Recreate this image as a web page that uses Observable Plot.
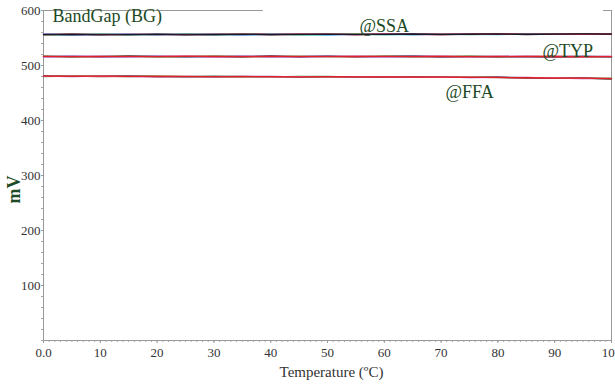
<!DOCTYPE html>
<html>
<head>
<meta charset="utf-8">
<script src="https://cdn.jsdelivr.net/npm/d3@7"></script>
<script src="https://cdn.jsdelivr.net/npm/@observablehq/plot@0.6"></script>
<style>
  html, body { margin: 0; padding: 0; background: white; }
</style>
</head>
<body>
<div id="chart"></div>
<script>
// Temperatures (ºC)
const temps = [0, 5, 10, 15, 20, 25, 30, 35, 40, 45, 50, 55, 60, 65, 70, 75, 80, 85, 90, 95, 100];
const xTicks = [0, 10, 20, 30, 40, 50, 60, 70, 80, 90, 100];
const yTicks = [100, 200, 300, 400, 500, 600];

// Colours of the overlapping sample curves, per group
const ssaColors = ["#00c8e6", "#3a5bd0", "#39a04a", "#9a4aa8", "#d8202a", "#1a1a2a"];
const typColors = ["#3a5bd0", "#8a9a30", "#9a4aa8", "#1a1a2a", "#ff6b9a", "#e0202a"];
const ffaColors = ["#39a04a", "#9a4aa8", "#8a9a30", "#1a1a2a", "#ff6b9a", "#e0202a"];

// @SSA curves (mV)
const ssaSeries = [
  [557.2, 556.0, 556.9, 556.4, 555.7, 556.9, 556.1, 555.8, 556.9, 556.3, 555.9, 557.1, 556.2, 556.0, 557.2, 556.5, 556.3, 557.4, 556.8, 556.9, 557.9],
  [556.5, 555.7, 556.3, 557.0, 556.1, 556.4, 557.1, 556.2, 556.6, 557.2, 556.3, 556.7, 557.4, 556.4, 556.7, 557.4, 556.6, 556.9, 557.5, 557.0, 557.4],
  [555.8, 556.4, 557.0, 555.7, 556.6, 557.1, 555.9, 556.6, 557.1, 555.9, 556.7, 557.3, 556.0, 556.9, 557.5, 556.2, 557.1, 557.6, 556.5, 557.4, 557.6],
  [556.9, 556.2, 556.5, 556.0, 556.8, 556.5, 556.3, 556.1, 557.2, 556.6, 556.5, 556.2, 557.0, 557.1, 556.9, 556.6, 556.9, 557.1, 556.7, 556.5, 557.3],
  [556.3, 557.0, 556.1, 556.7, 556.2, 556.0, 556.7, 557.2, 556.3, 556.8, 557.0, 556.4, 556.9, 556.6, 556.4, 557.0, 557.3, 556.6, 557.2, 557.3, 557.1],
  [556.0, 556.8, 555.6, 556.2, 557.0, 555.8, 556.4, 556.9, 555.9, 556.5, 557.2, 556.0, 556.6, 557.3, 556.2, 556.8, 557.5, 556.4, 557.0, 557.6, 557.2]
];

// @TYP curves (mV)
const typSeries = [
  [516.2, 516.9, 515.7, 516.4, 517.0, 515.8, 516.3, 516.8, 515.8, 516.4, 516.9, 515.7, 516.2, 516.8, 515.7, 516.3, 516.7, 515.6, 516.2, 516.6, 515.8],
  [516.9, 515.8, 516.5, 517.0, 515.9, 516.4, 517.0, 515.9, 516.5, 516.9, 515.8, 516.4, 516.9, 515.9, 516.3, 516.8, 515.8, 516.3, 516.7, 515.8, 516.3],
  [515.8, 516.4, 517.0, 515.7, 516.5, 516.9, 515.8, 516.4, 516.9, 515.7, 516.3, 516.9, 515.7, 516.3, 516.8, 515.6, 516.2, 516.7, 515.7, 516.1, 516.6],
  [516.5, 516.1, 516.2, 516.8, 516.3, 516.1, 516.6, 516.2, 517.0, 516.1, 516.6, 516.2, 516.5, 517.0, 516.1, 516.6, 516.2, 516.5, 515.9, 516.4, 516.0],
  [516.1, 516.6, 516.4, 516.0, 516.7, 517.1, 516.1, 516.6, 516.2, 516.7, 516.2, 516.8, 516.0, 516.5, 516.6, 516.1, 516.6, 516.9, 516.4, 515.9, 516.5],
  [516.6, 516.3, 516.0, 516.5, 516.2, 516.6, 516.4, 516.0, 516.4, 516.2, 516.5, 516.3, 516.6, 516.2, 516.4, 516.0, 516.4, 516.1, 516.4, 516.2, 516.1]
];

// @FFA curves (mV)
const ffaSeries = [
  [480.0, 480.9, 479.8, 480.5, 480.8, 479.6, 480.2, 480.4, 479.3, 480.1, 480.0, 479.0, 479.8, 479.5, 478.4, 479.0, 478.7, 477.4, 477.6, 477.1, 475.4],
  [480.9, 479.9, 480.6, 480.0, 479.6, 480.4, 479.5, 480.2, 480.1, 479.2, 479.9, 479.8, 478.8, 479.4, 479.2, 478.1, 478.6, 478.2, 476.9, 476.4, 476.5],
  [480.4, 480.5, 480.1, 479.8, 480.5, 480.1, 479.9, 479.5, 479.9, 479.8, 479.1, 479.6, 479.5, 478.7, 478.5, 478.9, 477.8, 478.0, 477.5, 476.6, 477.2],
  [480.6, 480.2, 480.4, 480.6, 479.9, 479.8, 480.3, 479.6, 479.7, 479.4, 479.7, 479.3, 479.0, 479.2, 478.9, 478.3, 478.4, 477.6, 477.2, 477.0, 475.8],
  [480.2, 480.7, 480.0, 480.2, 480.3, 480.2, 479.6, 480.0, 479.5, 479.9, 479.3, 479.5, 479.3, 478.9, 478.6, 478.7, 477.9, 477.9, 477.4, 476.5, 476.3],
  [480.7, 480.1, 480.5, 480.3, 480.0, 479.9, 479.8, 479.9, 479.8, 479.5, 479.6, 479.2, 479.4, 479.0, 479.0, 478.4, 478.3, 477.7, 477.1, 476.9, 476.0]
];

const groups = [
  {name: "@SSA", series: ssaSeries, colors: ssaColors},
  {name: "@TYP", series: typSeries, colors: typColors},
  {name: "@FFA", series: ffaSeries, colors: ffaColors}
];

const rows = [];
groups.forEach(g => {
  g.series.forEach((vals, si) => {
    vals.forEach((v, i) => rows.push({group: g.name, id: g.name + si, t: temps[i], v, color: g.colors[si]}));
  });
});

// Each label is attached to a point of its group's curves
const labelRows = [
  {text: "@SSA", t: temps[12], v: ssaSeries[5][12], dx: 0, dy: -2},
  {text: "@TYP", t: temps[18], v: typSeries[5][18], dx: 13, dy: 1},
  {text: "@FFA", t: temps[15], v: ffaSeries[5][15], dx: 0, dy: 21}
];

const minorX = d3.range(0, 101, 1);
const minorY = d3.range(0, 601, 20);
const green = "#1d4a26";
const axisGray = "#999";

const chart = Plot.plot({
  width: 615,
  height: 385,
  marginLeft: 43,
  marginRight: 4,
  marginTop: 10,
  marginBottom: 45,
  style: {fontFamily: "'Liberation Serif', 'DejaVu Serif', serif", fontSize: "13px", background: "white", color: "#333"},
  x: {domain: [0, 100]},
  y: {domain: [0, 600]},
  color: {type: "identity"},
  marks: [
    // minor ticks
    Plot.axisX({ticks: minorX, tickSize: 2, tickFormat: () => "", stroke: "#aaa", label: null}),
    Plot.axisY({ticks: minorY, tickSize: 2, tickFormat: () => "", stroke: "#aaa", label: null}),
    // major ticks
    Plot.axisX({ticks: xTicks, tickSize: 3, tickPadding: 4, tickFormat: d => d === 0 ? "0.0" : String(d), stroke: axisGray, fill: "#333", fontSize: 13, fontFamily: "Liberation Serif", label: null}),
    Plot.axisY({ticks: yTicks, tickSize: 2, tickPadding: 1, stroke: axisGray, fill: "#333", fontSize: 13, fontFamily: "Liberation Serif", label: null}),
    // frame
    Plot.ruleX([0], {stroke: axisGray}),
    Plot.ruleY([0], {stroke: axisGray}),
    Plot.ruleX([100], {stroke: axisGray}),
    Plot.ruleY([600], {x1: 0, x2: 38.7, stroke: axisGray}),
    Plot.ruleY([600], {x1: 98.6, x2: 100, stroke: axisGray}),
    // curves
    Plot.line(rows, {x: "t", y: "v", z: "id", stroke: "color", strokeWidth: 1.3}),
    // labels
    ...labelRows.map(l => Plot.text([l], {x: "t", y: "v", text: "text", dx: l.dx, dy: l.dy, fill: green, fontSize: 18, lineAnchor: "bottom"})),
    Plot.text(["BandGap (BG)"], {frameAnchor: "top-left", dx: 9, dy: -1, textAnchor: "start", lineAnchor: "top", fill: green, fontSize: 18}),
    Plot.text(["Temperature (ºC)"], {frameAnchor: "bottom", dx: 4, dy: 26, lineAnchor: "top", fill: "#333", fontSize: 15}),
    Plot.text(["mV"], {frameAnchor: "left", dx: -29, dy: 28, rotate: -90, fill: green, fontSize: 18, fontWeight: "bold"})
  ]
});
document.getElementById("chart").appendChild(chart);
</script>
</body>
</html>
